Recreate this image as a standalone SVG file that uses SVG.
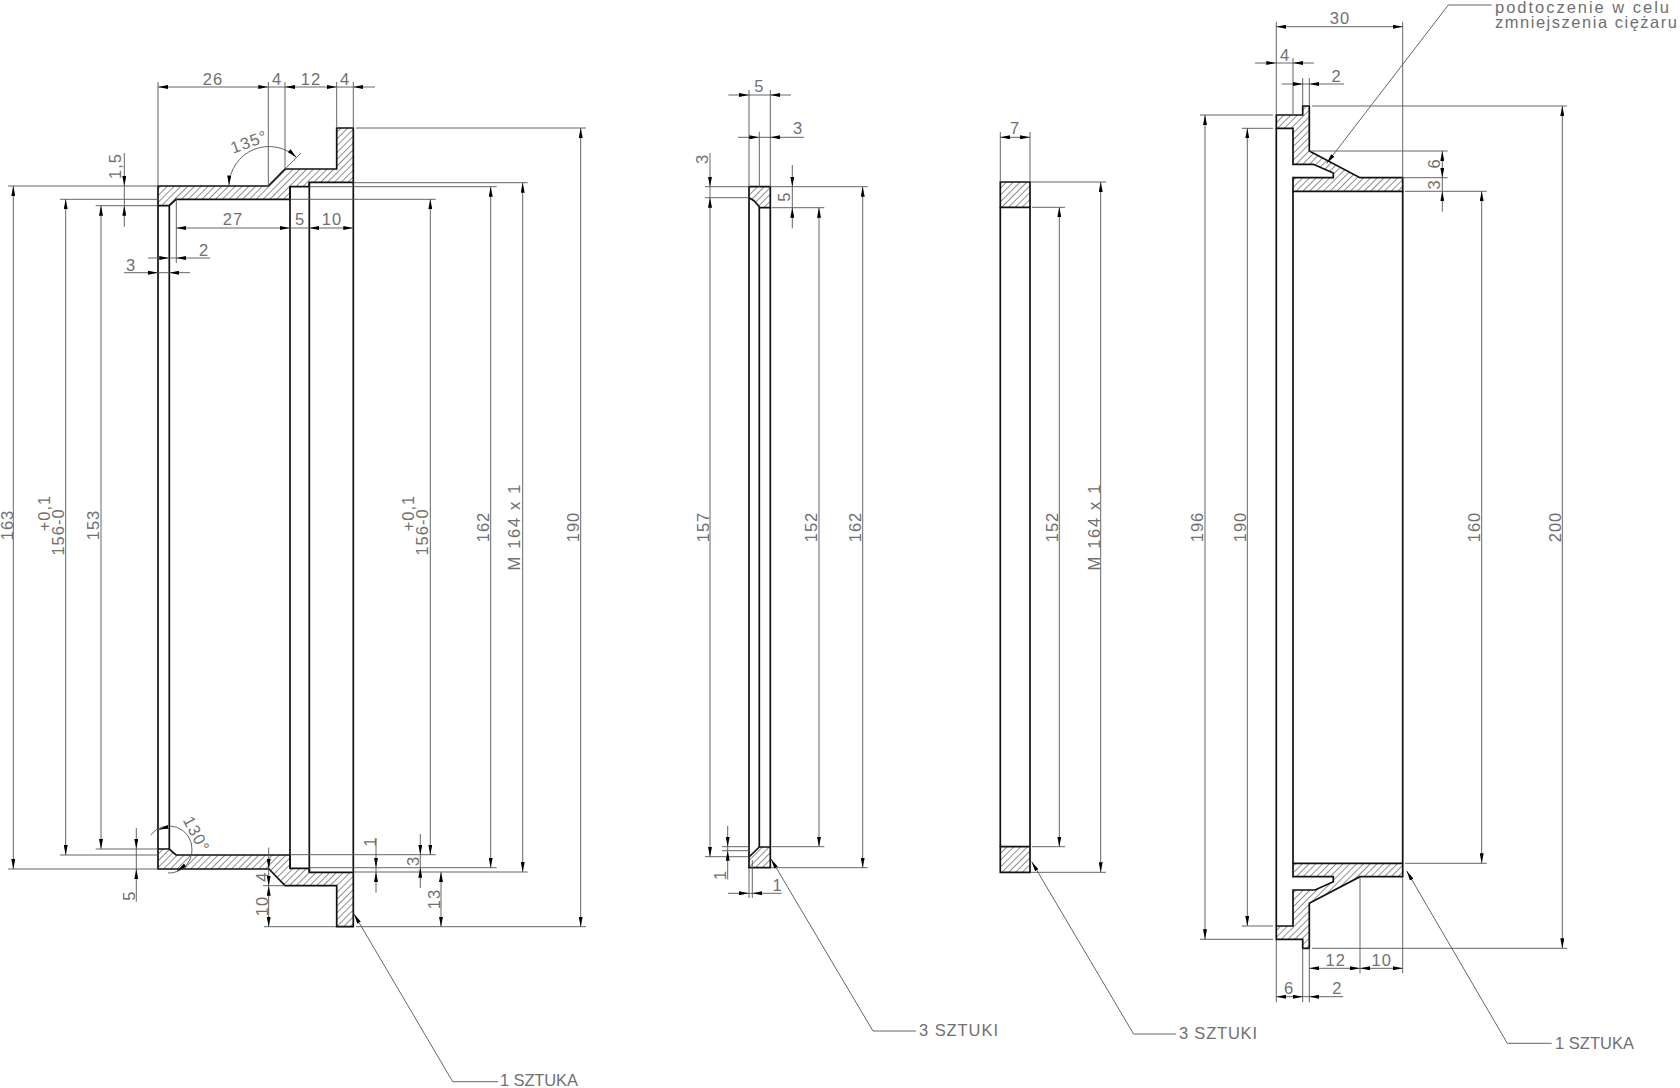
<svg xmlns="http://www.w3.org/2000/svg" width="1680" height="1088" viewBox="0 0 1680 1088">
<style>
.o{fill:none;stroke:#111;stroke-width:1.7}
.h{fill:url(#hatch);stroke:#111;stroke-width:1.7;stroke-linejoin:miter}
.d{fill:none;stroke:#555;stroke-width:.9}
.a{fill:none;stroke:#555;stroke-width:.9;marker-end:url(#arr)}
.b{fill:none;stroke:#555;stroke-width:.9;marker-start:url(#arr);marker-end:url(#arr)}
text{font-family:"Liberation Sans",Arial,sans-serif;font-size:16.5px;fill:#707070;letter-spacing:1px}
.c{text-anchor:middle}
.r{text-anchor:middle}
</style>
<defs>
<pattern id="hatch" patternUnits="userSpaceOnUse" width="4.8" height="4.8" patternTransform="rotate(45)">
<line x1="0" y1="0" x2="0" y2="4.8" stroke="#333" stroke-width="1.1"/>
</pattern>
<marker id="arr" markerUnits="userSpaceOnUse" viewBox="0 0 10 4" refX="10" refY="2" markerWidth="10" markerHeight="4" orient="auto-start-reverse"><path d="M0 0L10 2L0 4z" fill="#000"/></marker>
</defs>
<rect width="1680" height="1088" fill="#fff"/>

<g id="part-1">
<path class="h" d="M158 186H268.3L285 169H336.7V128H353.3V182.3H309.3V186.7H290V199.3H176L169.3 205.7H158Z"/>
<path class="h" d="M158 869H269L285 885.7H336.7V926.7H353.3V872.3H309.3V868.3H290V855H176L169.3 849H158Z"/>
<path class="o" d="M158 205.7V849M169.3 205.7V849M290 186.7V868.3M309.3 182.3V872.3M353.3 182.3V872.3"/>
</g>
<g id="part-2">
<path class="h" d="M749 186.7H770.3V207.7H759.3V206.7L754 200.7L749 197.7Z"/>
<path class="h" d="M749 867.7H770.3V847H759.3L749 857Z"/>
<path class="o" d="M749 197.7V857M759.3 207.7V847M770.3 207.7V847"/>
</g>
<g id="part-3">
<path class="h" d="M1000.3 182H1030V207.3H1000.3Z"/>
<path class="h" d="M1000.3 846.7H1030V872.3H1000.3Z"/>
<path class="o" d="M1000.3 207.3V846.7M1030 207.3V846.7"/>
</g>
<g id="part-4">
<path class="h" d="M1276.3 115H1302.7V106H1309.3V151L1360 177.7H1402.7V191.3H1293V177.7H1333.3V173L1313.3 164.3H1293V128.3H1276.3Z"/>
<path class="h" d="M1276.3 939.3H1302.7V948.3H1309.3V903.3L1360 876.7H1402.7V863.3H1293V876.7H1333.3V881.7L1315 890H1293V926H1276.3Z"/>
<path class="o" d="M1276.3 128.3V926M1293 191.3V863.3M1402.7 191.3V863.3"/>
</g>

<g id="connectors">
<path class="d" d="M158 82V186M268.3 82V186M285 82V169M336.7 82V128M353.3 82V128M356 128H586M264 926.7H336M356 926.7H586M353 182.7H527.7M353 872H527.7M309 186.7H496.7M309 867.7H496.7M290 199.3H435.7M290 854.7H435.7M8 186H158M8 869H158M60 199.3H158M60 855H158M95.7 205.7H158M95.7 849H158M176.3 199.3V263M263 885.7H285M300.7 153.3L285 169"/>
<path class="b" d="M158 87H268.3"/><path class="b" d="M285 87H336.7"/><path class="d" d="M268.3 87H285"/><path class="a" d="M375 87H353.3"/><path class="d" d="M336.7 87H353.3"/>
<path class="b" d="M176.3 228H290"/><path class="b" d="M309.3 228H353.3"/><path class="d" d="M290 228H309.3"/>
<path class="a" d="M148 258H169.3"/><path class="a" d="M210 258H176.3"/><path class="d" d="M169.3 258H176.3"/>
<path class="a" d="M124 272.7H158"/><path class="a" d="M190 272.7H169.3"/><path class="d" d="M158 272.7H169.3"/>
<path class="a" d="M124.3 153V186"/><path class="a" d="M124.3 226.7V205.7"/><path class="d" d="M124.3 186V205.7"/>
<path class="a" d="M136.3 828V849"/><path class="a" d="M136.3 901.7V869"/><path class="d" d="M136.3 849V869"/>
<path class="b" d="M13.3 186V869"/><path class="b" d="M65.7 199.3V855"/><path class="b" d="M101 205.7V849"/>
<path class="b" d="M430.3 199.3V854.7"/><path class="b" d="M490.7 186.7V867.7"/><path class="b" d="M522.7 182.7V872"/><path class="b" d="M580.7 128V926.7"/>
<path class="a" d="M376 838V867.7"/><path class="a" d="M376 892.7V872"/><path class="d" d="M376 867.7V872"/>
<path class="a" d="M420.3 834V854.7"/><path class="a" d="M420.3 888V867.7"/><path class="d" d="M420.3 854.7V867.7"/>
<path class="b" d="M441 872V926.7"/>
<path class="a" d="M268.7 847.5V869"/><path class="d" d="M268.7 869V878"/><path class="a" d="M268.7 878V885.7"/><path class="b" d="M268.7 885.7V926.7"/>
<path class="b" d="M229 185.5A40 40 0 0 1 296.5 157.5"/>
<path class="d" d="M150.7 835A23 23 0 0 1 192 850A23 23 0 0 1 168 873"/>
<path class="a" d="M166 827.5L158.5 829.5"/><path class="a" d="M184 866L177 871"/>
<path class="a" d="M452.7 1081.7L354 914"/><path class="d" d="M452.7 1081.7H498"/>

<path class="d" d="M749 90V186.7M770.3 90V186.7M759.3 131.7V186.7M705 186.7H749M705 197.7H749M705 856.7H749M722 846.7H749M722 850.7H749M771.7 207.7H824.3M771.7 846.7H824.3M770 186.7H867.7M770 867.7H867.7M749 868V898M752.3 860V898"/>
<path class="a" d="M728.3 95H749"/><path class="a" d="M791 95H770.3"/><path class="d" d="M749 95H770.3"/>
<path class="a" d="M738 137.3H759.3"/><path class="a" d="M804 137.3H770.3"/><path class="d" d="M759.3 137.3H770.3"/>
<path class="a" d="M710 153V186.7"/><path class="b" d="M710 197.7V856.7"/><path class="d" d="M710 186.7V197.7"/>
<path class="a" d="M792.3 165V186.7"/><path class="a" d="M792.3 228.3V207.7"/><path class="d" d="M792.3 186.7V207.7"/>
<path class="b" d="M819 207.7V846.7"/><path class="b" d="M862.7 186.7V867.7"/>
<path class="a" d="M727.7 825.7V846.7"/><path class="a" d="M727.7 879.3V850.7"/><path class="d" d="M727.7 846.7V850.7"/>
<path class="a" d="M728 893.3H749"/><path class="a" d="M781.7 893.3H752.3"/><path class="d" d="M749 893.3H752.3"/>
<path class="a" d="M873 1031L771 859"/><path class="d" d="M873 1031H916"/>

<path class="d" d="M1000.3 132V182M1030 132V182M1032 207.3H1065M1032 846.7H1065M1030 182H1106M1030 872.3H1106"/>
<path class="b" d="M1000.3 137.3H1030"/><path class="b" d="M1059.3 207.3V846.7"/><path class="b" d="M1100.7 182V872.3"/>
<path class="a" d="M1133.6 1034L1031.7 861.7"/><path class="d" d="M1133.6 1034H1176"/>

<path class="d" d="M1276.3 21.7V115M1402.7 21.7V177M1293 58V115M1302.7 78V106M1309.3 78V106M1312 106H1567M1312 948.3H1567M1200 115H1273M1200 939.3H1273M1241.7 128.3H1273M1241.7 926H1273M1405 191.3H1486.7M1405 863.3H1486.7M1309.3 151H1447.7M1402 177.7H1447.7M1360 876.7V973.3M1402.7 877V973.3M1309.3 948V1002.3M1276.3 940V1002.3M1302.7 948V1002.3"/>
<path class="b" d="M1276.3 26.7H1402.7"/>
<path class="a" d="M1255 63H1276.3"/><path class="a" d="M1314 63H1293"/><path class="d" d="M1276.3 63H1293"/>
<path class="a" d="M1281.7 84H1302.7"/><path class="a" d="M1344 84H1309.3"/><path class="d" d="M1302.7 84H1309.3"/>
<path class="b" d="M1442.3 151V177.7"/><path class="a" d="M1442.3 211.7V191.3"/><path class="d" d="M1442.3 177.7V191.3"/>
<path class="b" d="M1205 115V939.3"/><path class="b" d="M1247.3 128.3V926"/><path class="b" d="M1481.7 191.3V863.3"/><path class="b" d="M1562.3 106V948.3"/>
<path class="b" d="M1309.3 968.3H1360"/><path class="b" d="M1360 968.3H1402.7"/>
<path class="b" d="M1276.3 996.7H1302.7"/><path class="a" d="M1343.3 996.7H1309.3"/><path class="d" d="M1302.7 996.7H1309.3"/>
<path class="a" d="M1448.3 5L1326.7 163.3"/><path class="d" d="M1448.3 5H1491.7"/>
<path class="a" d="M1507.3 1043.3L1406.7 871"/><path class="d" d="M1507.3 1043.3H1551.7"/>
</g>

<g id="labels">
<text class="c" x="213" y="85">26</text><text class="c" x="277" y="85">4</text><text class="c" x="311" y="85">12</text><text class="c" x="345" y="85">4</text>
<text class="c" x="233" y="225">27</text><text class="c" x="300" y="225">5</text><text class="c" x="332" y="225">10</text>
<text class="c" x="204" y="255.7">2</text><text class="c" x="131" y="270.7">3</text>
<text class="r" dy=".36em" transform="translate(115 166) rotate(-90)">1,5</text>
<text class="r" dy=".36em" transform="translate(249 141.7) rotate(-20)">135°</text>
<text class="r" dy=".36em" transform="translate(196.7 834) rotate(62)">130°</text>
<text class="r" dy=".36em" transform="translate(7.5 525) rotate(-90)">163</text>
<text class="r" dy=".36em" transform="translate(58 532) rotate(-90)">156-0</text>
<text class="r" dy=".36em" transform="translate(44 513) rotate(-90)">+0,1</text>
<text class="r" dy=".36em" transform="translate(93 525) rotate(-90)">153</text>
<text class="r" dy=".36em" transform="translate(422 532) rotate(-90)">156-0</text>
<text class="r" dy=".36em" transform="translate(408 513) rotate(-90)">+0,1</text>
<text class="r" dy=".36em" transform="translate(483 527) rotate(-90)">162</text>
<text class="r" dy=".36em" transform="translate(514 527) rotate(-90)" textLength="87">M 164 x 1</text>
<text class="r" dy=".36em" transform="translate(573 527) rotate(-90)">190</text>
<text class="r" dy=".36em" transform="translate(129 895.7) rotate(-90)">5</text>
<text class="r" dy=".36em" transform="translate(262 876.7) rotate(-90)">4</text>
<text class="r" dy=".36em" transform="translate(261.7 906) rotate(-90)">10</text>
<text class="r" dy=".36em" transform="translate(370 841.7) rotate(-90)">1</text>
<text class="r" dy=".36em" transform="translate(412.7 861) rotate(-90)">3</text>
<text class="r" dy=".36em" transform="translate(434 899) rotate(-90)">13</text>
<text x="500" y="1086" textLength="79">1 SZTUKA</text>

<text class="c" x="759.3" y="92">5</text><text class="c" x="798" y="134">3</text>
<text class="r" dy=".36em" transform="translate(701.7 159) rotate(-90)">3</text>
<text class="r" dy=".36em" transform="translate(784 196.7) rotate(-90)">5</text>
<text class="r" dy=".36em" transform="translate(703 527) rotate(-90)">157</text>
<text class="r" dy=".36em" transform="translate(811 527) rotate(-90)">152</text>
<text class="r" dy=".36em" transform="translate(855 527) rotate(-90)">162</text>
<text class="r" dy=".36em" transform="translate(720 875) rotate(-90)">1</text>
<text class="c" x="777.7" y="891">1</text>
<text x="919" y="1036" textLength="80">3 SZTUKI</text>

<text class="c" x="1015" y="134">7</text>
<text class="r" dy=".36em" transform="translate(1052 527) rotate(-90)">152</text>
<text class="r" dy=".36em" transform="translate(1094 527) rotate(-90)" textLength="87">M 164 x 1</text>
<text x="1179" y="1039" textLength="79">3 SZTUKI</text>

<text class="c" x="1340" y="24">30</text><text class="c" x="1285" y="60.7">4</text><text class="c" x="1336.7" y="81.7">2</text>
<text class="r" dy=".36em" transform="translate(1434 163.3) rotate(-90)">6</text>
<text class="r" dy=".36em" transform="translate(1434 184.3) rotate(-90)">3</text>
<text class="r" dy=".36em" transform="translate(1197 527) rotate(-90)">196</text>
<text class="r" dy=".36em" transform="translate(1239.6 527) rotate(-90)">190</text>
<text class="r" dy=".36em" transform="translate(1474 527) rotate(-90)">160</text>
<text class="r" dy=".36em" transform="translate(1554.6 527) rotate(-90)">200</text>
<text class="c" x="1335.7" y="966">12</text><text class="c" x="1381.7" y="966">10</text>
<text class="c" x="1289" y="994">6</text><text class="c" x="1337.3" y="994">2</text>
<text x="1555" y="1049.3" textLength="80">1 SZTUKA</text>
<text x="1495" y="12.5" textLength="175">podtoczenie w celu</text>
<text x="1495" y="28" textLength="183">zmniejszenia ciężaru</text>
</g>
</svg>
